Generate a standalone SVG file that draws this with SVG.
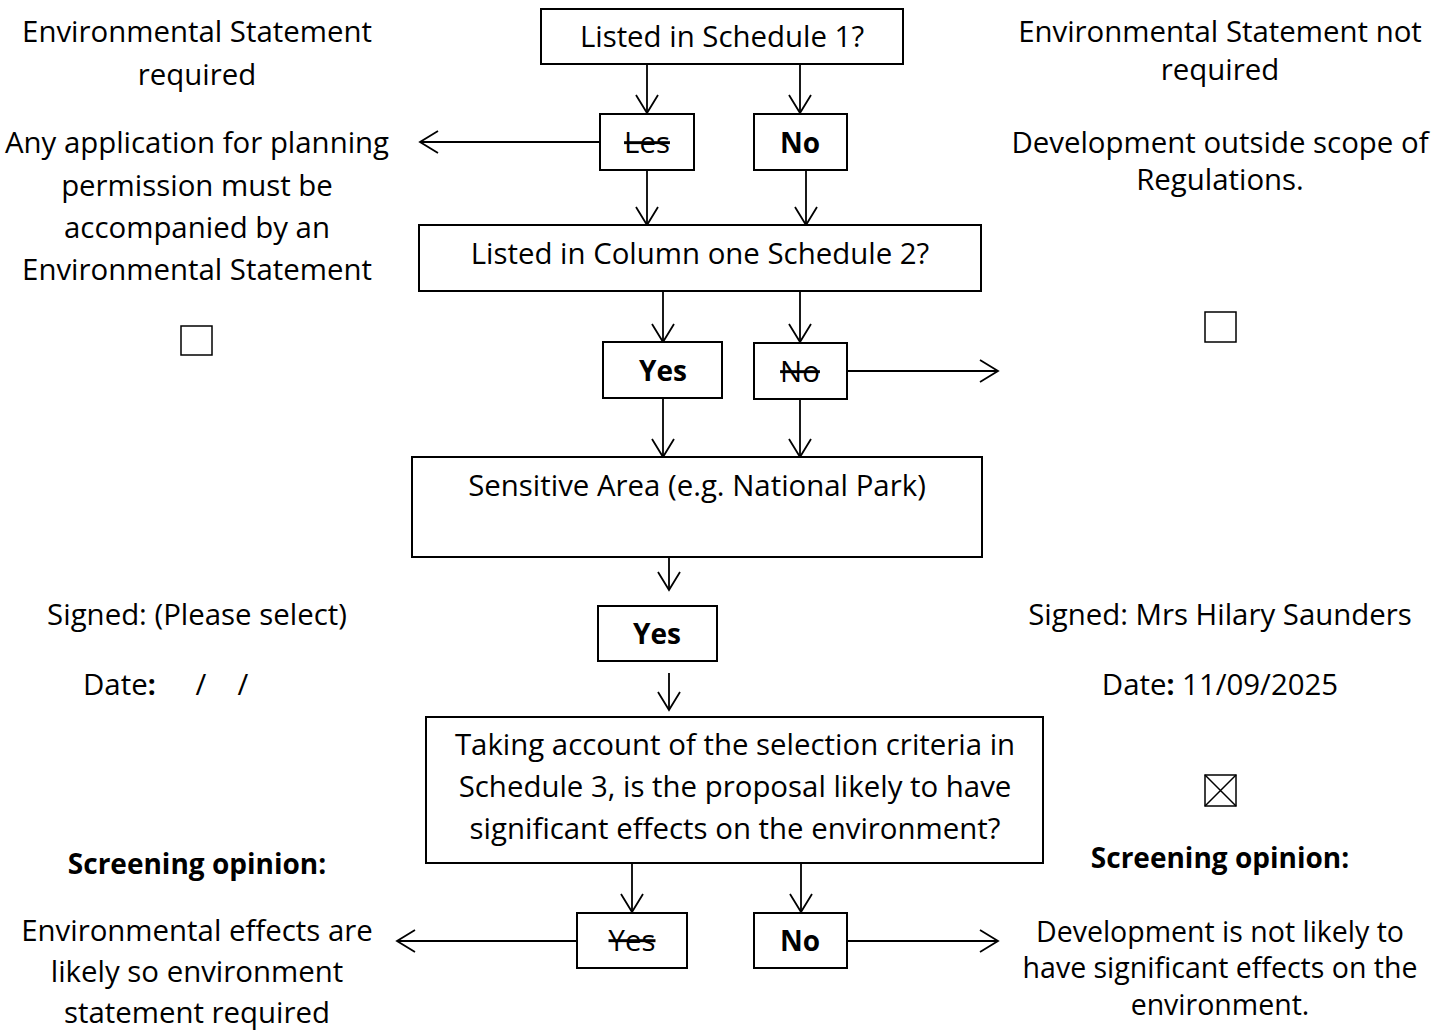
<svg xmlns="http://www.w3.org/2000/svg" width="1452" height="1032" viewBox="0 0 1452 1032">
<style>
text{font-family:"Open Sans","Liberation Sans",sans-serif;font-size:29.4px;fill:#000;text-anchor:middle}
.b{font-weight:bold;font-size:28px}
.s{text-decoration:line-through}
.sm{font-size:28.5px}
.box{fill:#fff;stroke:#000;stroke-width:2}
.cb{fill:none;stroke:#000;stroke-width:1.5}
.c{fill:none;stroke:#000;stroke-width:1.8;marker-end:url(#ah)}
</style>
<defs>
<marker id="ah" markerUnits="userSpaceOnUse" markerWidth="22" markerHeight="24" refX="19" refY="11" orient="auto" viewBox="0 0 22 22">
<path d="M1,0 L19,11 L1,22" fill="none" stroke="#000" stroke-width="1.8"/>
</marker>
</defs>
<rect width="1452" height="1032" fill="#fff"/>
<g id="connectors">
<line class="c" x1="647" y1="64" x2="647" y2="113"/>
<line class="c" x1="800" y1="64" x2="800" y2="113"/>
<line class="c" x1="600" y1="142" x2="420" y2="142"/>
<line class="c" x1="647" y1="170" x2="647" y2="225"/>
<line class="c" x1="806" y1="170" x2="806" y2="225"/>
<line class="c" x1="663" y1="292" x2="663" y2="342"/>
<line class="c" x1="800" y1="292" x2="800" y2="342"/>
<line class="c" x1="847" y1="371" x2="998" y2="371"/>
<line class="c" x1="663" y1="398" x2="663" y2="457"/>
<line class="c" x1="800" y1="399" x2="800" y2="457"/>
<line class="c" x1="669" y1="557" x2="669" y2="590"/>
<line class="c" x1="669" y1="673" x2="669" y2="710"/>
<line class="c" x1="632" y1="863" x2="632" y2="912"/>
<line class="c" x1="801" y1="863" x2="801" y2="912"/>
<line class="c" x1="577" y1="941" x2="397" y2="941"/>
<line class="c" x1="847" y1="941" x2="998" y2="941"/>
</g>
<g id="n-schedule1"><rect class="box" x="541" y="9" width="362" height="55"/><text x="722" y="47">Listed in Schedule 1?</text></g>
<g id="n-les"><rect class="box" x="600" y="114" width="94" height="56"/><text class="s" x="647" y="153">Les</text></g>
<g id="n-no1"><rect class="box" x="754" y="114" width="93" height="56"/><text class="b" x="800" y="153">No</text></g>
<g id="n-schedule2"><rect class="box" x="419" y="225" width="562" height="66"/><text x="700" y="264">Listed in Column one Schedule 2?</text></g>
<g id="n-yes2"><rect class="box" x="603" y="342" width="119" height="56"/><text class="b" x="663" y="381">Yes</text></g>
<g id="n-no2"><rect class="box" x="754" y="343" width="93" height="56"/><text class="s" x="800" y="382">No</text></g>
<g id="n-sensitive"><rect class="box" x="412" y="457" width="570" height="100"/><text x="697" y="496">Sensitive Area (e.g. National Park)</text></g>
<g id="n-yes3"><rect class="box" x="598" y="606" width="119" height="55"/><text class="b" x="657" y="644">Yes</text></g>
<g id="n-schedule3"><rect class="box" x="426" y="717" width="617" height="146"/>
<text x="735" y="755">Taking account of the selection criteria in</text>
<text x="735" y="797">Schedule 3, is the proposal likely to have</text>
<text x="735" y="839">significant effects on the environment?</text></g>
<g id="n-yes4"><rect class="box" x="577" y="913" width="110" height="55"/><text class="s" x="632" y="951">Yes</text></g>
<g id="n-no4"><rect class="box" x="754" y="913" width="93" height="55"/><text class="b" x="800" y="951">No</text></g>
<g id="left-text">
<text x="197" y="42">Environmental Statement</text>
<text x="197" y="85">required</text>
<text x="197" y="153">Any application for planning</text>
<text x="197" y="196">permission must be</text>
<text x="197" y="238">accompanied by an</text>
<text x="197" y="280">Environmental Statement</text>
<rect class="cb" x="181" y="326" width="31" height="29"/>
<text x="197" y="625">Signed: (Please select)</text>
<text x="83" y="695" style="text-anchor:start">Date<tspan class="b">:</tspan></text>
<text x="201" y="695">/</text>
<text x="243" y="695">/</text>
<text class="b" x="197" y="874">Screening opinion:</text>
<text x="197" y="941">Environmental effects are</text>
<text x="197" y="982">likely so environment</text>
<text x="197" y="1023">statement required</text>
</g>
<g id="right-text">
<text x="1220" y="42">Environmental Statement not</text>
<text x="1220" y="80">required</text>
<text x="1220" y="153">Development outside scope of</text>
<text x="1220" y="190">Regulations.</text>
<rect class="cb" x="1205" y="312" width="31" height="30"/>
<text x="1220" y="625">Signed: Mrs Hilary Saunders</text>
<text x="1220" y="695">Date<tspan class="b">:</tspan> 11/09/2025</text>
<rect class="cb" x="1205" y="775" width="31" height="31"/>
<path class="cb" d="M1205,775 L1236,806 M1236,775 L1205,806"/>
<text class="b" x="1220" y="868">Screening opinion:</text>
<text class="sm" x="1220" y="942">Development is not likely to</text>
<text class="sm" x="1220" y="978">have significant effects on the</text>
<text class="sm" x="1220" y="1015">environment.</text>
</g>
</svg>
